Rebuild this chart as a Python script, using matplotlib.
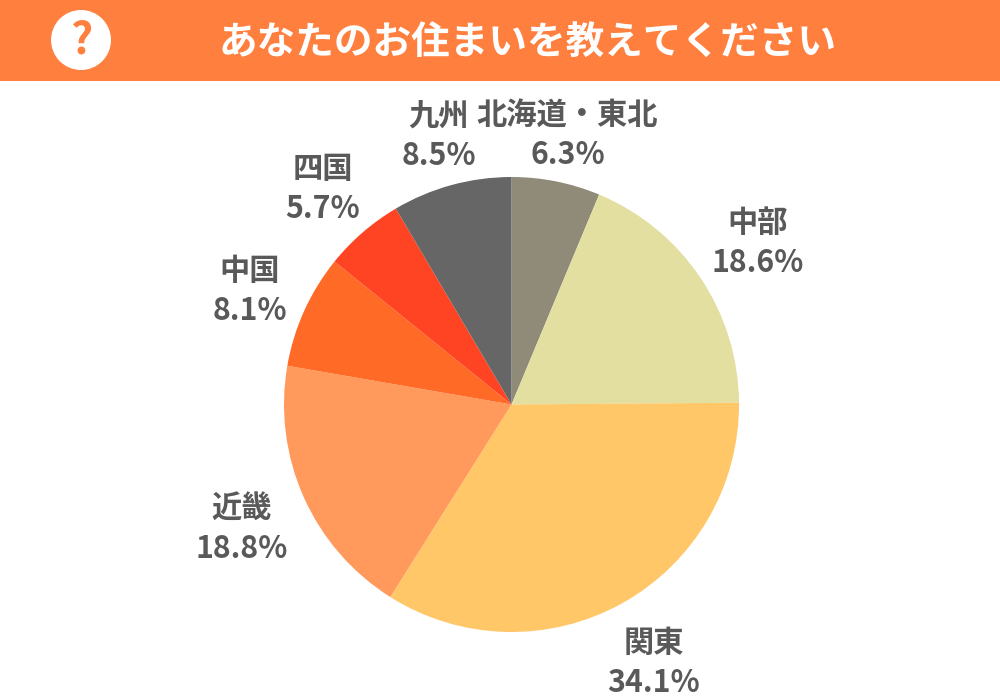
import matplotlib
matplotlib.use("Agg")
import matplotlib.pyplot as plt
from matplotlib.patches import Rectangle, Circle

plt.rcParams['font.family'] = ['Noto Sans CJK JP', 'DejaVu Sans']

title = "あなたのお住まいを教えてください"
categories = ["北海道・東北", "中部", "関東", "近畿", "中国", "四国", "九州"]
values = [6.3, 18.6, 34.1, 18.8, 8.1, 5.7, 8.5]
colors = ["#8F8B78", "#E3DFA0", "#FFC768", "#FF9A5C", "#FF6A26", "#FF4423", "#666666"]
label_xy = [(567.5, 134), (758, 242), (653.5, 662), (241.5, 528), (250, 290), (322.5, 188), (438.5, 135)]

fig = plt.figure(figsize=(10, 7), dpi=100, facecolor="white")
bg = fig.add_axes([0, 0, 1, 1])
bg.set_xlim(0, 1000); bg.set_ylim(700, 0); bg.axis("off")
bg.add_patch(Rectangle((0, 0), 1000, 81, color="#FF7F3F", lw=0))
bg.add_patch(Circle((81, 40), 30, color="white", lw=0))
bg.text(81, 41, "?", color="#FF7F3F", fontsize=31, fontweight="bold", ha="center", va="center")
bg.text(528, 43, title, color="white", fontsize=27.8, fontweight="bold", ha="center", va="center")

cx, cy, r = 511.5, 404.5, 227.5
ax = fig.add_axes([(cx - r) / 1000, 1 - (cy + r) / 700, 2 * r / 1000, 2 * r / 700])
ax.pie(values, colors=colors, startangle=90, counterclock=False, radius=1,
       wedgeprops={"linewidth": 0})
ax.set_xlim(-1, 1); ax.set_ylim(-1, 1)
ax.set_zorder(1)

for cat, val, (x, y) in zip(categories, values, label_xy):
    bg.text(x, y - 19, cat, color="#595959", fontsize=21.8, fontweight="bold", ha="center", va="center")
    bg.text(x, y + 21, f"{val}%", color="#595959", fontsize=21.8, fontweight="bold", ha="center", va="center")

fig.savefig("out.png", dpi=100)
